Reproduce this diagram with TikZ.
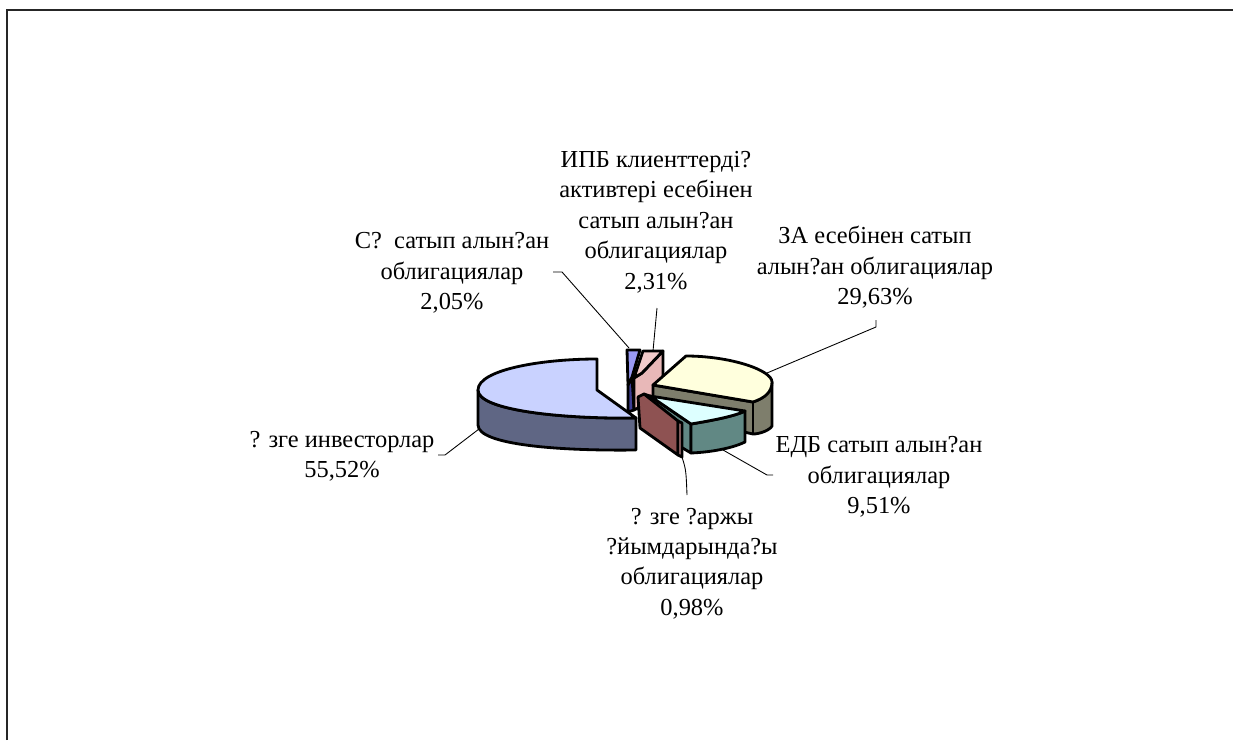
\documentclass[tikz,border=0pt]{standalone}
\usepackage{fontspec}
\setmainfont[Extension=.ttf,UprightFont=*-Regular,BoldFont=*-Bold,ItalicFont=*-Italic,BoldItalicFont=*-BoldItalic]{LiberationSerif}
\definecolor{bigtop}{HTML}{C9D2FF}
\definecolor{bigside}{HTML}{5F6684}
\definecolor{sqtop}{HTML}{9A9AF5}
\definecolor{sqside}{HTML}{3D3D95}
\definecolor{ipbtop}{HTML}{F2CACA}
\definecolor{ipbside}{HTML}{E8B8B8}
\definecolor{zatop}{HTML}{FFFFDD}
\definecolor{zaside}{HTML}{7E7E6C}
\definecolor{edbtop}{HTML}{DDFFFF}
\definecolor{edbside}{HTML}{618884}
\definecolor{brwall}{HTML}{8E5252}
\definecolor{brstrip}{HTML}{C48C8C}
\begin{document}
\begin{tikzpicture}[x=0.02cm,y=-0.02cm,
  edge/.style={draw=black,line width=1.6pt,line join=round},
  lead/.style={draw=black,line width=0.5pt},
  lbl/.style={align=center,font=\fontsize{13.9}{17.3}\selectfont,inner sep=0pt}]
\useasboundingbox (0,0) rectangle (1233,740);
\draw[line width=1pt,black!85] (7,740) -- (7,10) -- (1233,10);

% --- С? sliver (blue) ---
\filldraw[edge,fill=sqside] (628,385) -- (632,377) -- (634,410) -- (628,412) -- cycle;
\filldraw[edge,fill=sqtop] (627,350) -- (640,350) -- (632,377) -- (628,385) -- cycle;
% --- ИПБ (pink) ---
\filldraw[edge,fill=ipbside] (642,373) -- (663,351) -- (663,395) -- (634,410) -- (634,378) -- cycle;
\filldraw[edge,fill=ipbtop] (643,351) -- (663,351) -- (642,373) -- (634,378) -- cycle;

% --- Өзге инвесторлар (big slice) ---
\filldraw[edge,fill=bigside] (478,390) .. controls (478,410) and (560,419) .. (636,418)
  -- (636,450) .. controls (560,451) and (478,445) .. (478,425) -- cycle;
\filldraw[edge,fill=bigtop] (597,359) .. controls (540,359) and (478,370) .. (478,390)
  .. controls (478,410) and (560,419) .. (636,418) -- (597,390) -- cycle;

% --- ЗА (yellow) ---
\filldraw[edge,fill=zaside] (653,385) -- (753,402) .. controls (765,398) and (772,390) .. (772,382)
  -- (772,426) .. controls (770,430) and (760,434) .. (753,434) -- (653,412) -- cycle;
\draw[edge] (753,402) -- (753,434);
\filldraw[edge,fill=zatop] (653,385) -- (686,356) .. controls (730,356) and (772,370) .. (772,382)
  .. controls (772,392) and (765,398) .. (753,402) -- cycle;

% --- ЕДБ (cyan) ---
\filldraw[edge,fill=edbside] (644,394) -- (650,396) -- (691,424) -- (691,453) -- (644,425) -- cycle;
\filldraw[edge,fill=edbside] (691,424) .. controls (715,420) and (735,416) .. (745,411)
  -- (745,442) .. controls (735,447) and (715,452) .. (691,453) -- cycle;
\filldraw[edge,fill=edbtop] (650,396) -- (745,411) .. controls (735,416) and (715,420) .. (691,424) -- cycle;

% --- Өзге қаржы (brown) ---
\filldraw[edge,fill=brwall] (638,397) -- (644,394) -- (678,421) -- (678,455) -- (640,428) -- cycle;
\filldraw[edge,fill=brstrip] (678,421) -- (682,423) -- (682,457) -- (678,455) -- cycle;

% --- anchor points on the pie ---
\coordinate (pSQ) at (629,348);
\coordinate (pIPB) at (653,351);
\coordinate (pZA) at (767,373);
\coordinate (pEDB) at (723,450);
\coordinate (pOQ) at (682,457);
\coordinate (pOI) at (479,429);

% --- labels ---
\node[lbl] (tIPB) at (656,222) {ИПБ клиенттерді?\\активтері есебінен\\сатып алын?ан\\облигациялар\\2,31\%};
\node[lbl] (tSQ) at (452,273) {С?\ \ сатып алын?ан\\облигациялар\\2,05\%};
\node[lbl] (tZA) at (875,267.5) {ЗА есебінен сатып\\алын?ан облигациялар\\29,63\%};
\node[lbl] (tEDB) at (879,477) {ЕДБ сатып алын?ан\\облигациялар\\9,51\%};
\node[lbl] (tOQ) at (692,563.5) {? зге ?аржы\\?йымдарында?ы\\облигациялар\\0,98\%};
\node[lbl] (tOI) at (342,456.5) {? зге инвесторлар\\55,52\%};

% --- leaders ---
\coordinate (cSQ) at (553,272);
\coordinate (cSQb) at (562,272);
\draw[lead] (cSQ) -- (cSQb) -- (pSQ);
\coordinate (cIPB) at (657,308);
\draw[lead] (cIPB) -- (pIPB);
\coordinate (cZA) at (876,320);
\coordinate (cZAb) at (876,327);
\draw[lead] (cZA) -- (cZAb) -- (pZA);
\coordinate (cEDB) at (767,475);
\coordinate (cEDBb) at (773,475);
\draw[lead] (pEDB) -- (cEDB) -- (cEDBb);
\coordinate (cOQ) at (687,495);
\draw[lead] (pOQ) .. controls (686,470) .. (cOQ);
\coordinate (cOI) at (445,455);
\coordinate (cOIb) at (438,455);
\draw[lead] (pOI) -- (cOI) -- (cOIb);
\end{tikzpicture}
\end{document}
